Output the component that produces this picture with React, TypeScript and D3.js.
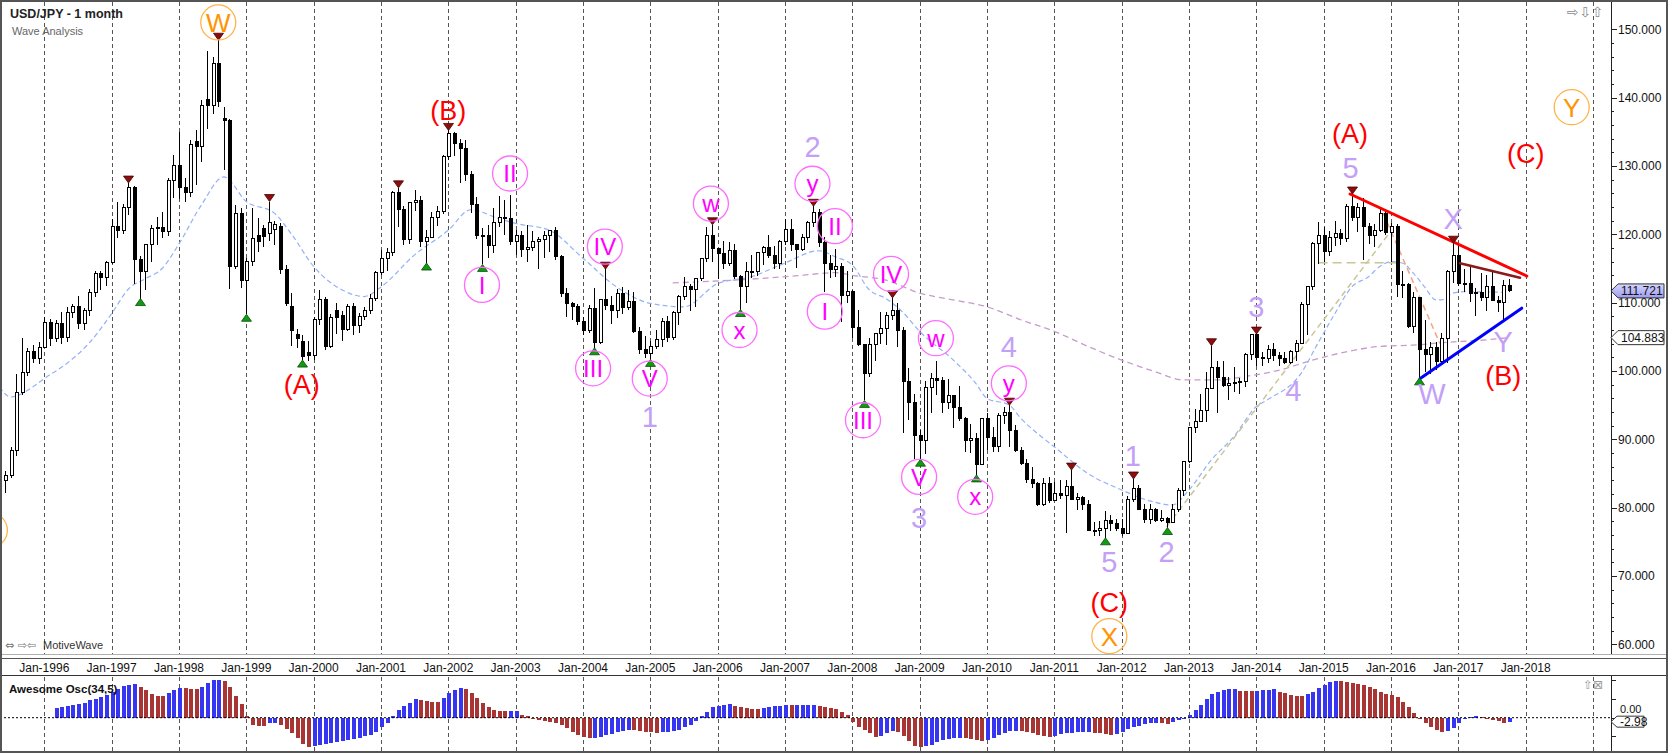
import React from "react";
import * as d3 from "d3";

type OHLC = [number, number, number, number];

// ---------- price data (monthly USD/JPY, O H L C) ----------
const candleStart = "1995-06";
const candles1995: OHLC[] = [
  [84.0, 85.3, 82.2, 84.7], [84.7, 88.9, 84.3, 88.4], [88.4, 99.5, 87.5, 96.8], [96.8, 104.9, 96.5, 99.8],
  [99.8, 103.4, 99.3, 102.9], [102.9, 103.8, 101.2, 101.8], [101.8, 104.2, 101.0, 103.5],
];
const candles1996: OHLC[] = [
  [103.5, 107.9, 103.3, 107.1], [107.1, 107.6, 103.7, 104.8], [104.8, 107.4, 104.2, 106.9], [106.9, 108.6, 104.0, 104.9],
  [104.9, 109.3, 104.3, 108.6], [108.6, 109.8, 107.8, 109.5], [109.5, 111.0, 106.2, 106.9], [106.9, 109.2, 106.0, 108.9],
  [108.9, 112.0, 108.0, 111.5], [111.5, 114.7, 110.9, 114.2], [114.2, 114.6, 111.9, 113.7], [113.7, 116.1, 112.5, 115.9],
];
const candles1997: OHLC[] = [
  [115.9, 122.3, 115.6, 121.2], [121.2, 124.7, 119.5, 120.5], [120.5, 124.4, 120.0, 123.9], [123.9, 127.5, 122.8, 126.8],
  [126.8, 127.0, 112.7, 116.3], [116.3, 116.8, 110.6, 114.6], [114.6, 118.6, 111.8, 118.5], [118.5, 121.3, 116.0, 120.8],
  [120.8, 122.6, 118.5, 121.0], [121.0, 123.3, 119.4, 120.4], [120.4, 128.3, 119.8, 127.9], [127.9, 131.6, 125.3, 130.1],
];
const candles1998: OHLC[] = [
  [130.1, 135.0, 125.1, 126.8], [126.8, 128.2, 124.7, 126.1], [126.1, 133.8, 125.5, 133.2], [133.6, 135.2, 127.2, 132.8],
  [132.8, 139.6, 130.6, 138.8], [139.8, 146.8, 135.4, 138.9], [138.9, 145.9, 137.6, 145.0], [145.0, 148.4, 138.7, 139.5],
  [137.0, 138.7, 129.4, 136.6], [136.6, 136.9, 112.0, 115.3], [115.3, 124.3, 115.0, 123.1], [123.1, 123.9, 112.1, 113.3],
];
const candles1999: OHLC[] = [
  [113.3, 116.6, 108.3, 116.0], [116.0, 123.9, 115.3, 119.4], [119.9, 122.4, 117.4, 118.9], [120.9, 121.4, 118.2, 119.7],
  [120.1, 124.8, 119.0, 121.8], [120.7, 122.0, 118.5, 121.4], [121.2, 121.6, 114.2, 114.9], [114.9, 115.5, 109.5, 109.9],
  [109.4, 111.4, 103.7, 106.0], [105.3, 106.2, 103.3, 104.8], [104.3, 105.3, 101.6, 102.1], [102.7, 104.4, 101.5, 102.2],
];
const candles2000: OHLC[] = [
  [102.2, 107.9, 101.6, 107.5], [107.5, 111.9, 106.7, 110.4], [110.4, 110.8, 103.1, 103.6], [103.6, 108.4, 103.3, 107.9],
  [108.9, 109.9, 105.4, 107.9], [108.1, 108.8, 104.4, 106.1], [106.1, 109.8, 105.9, 109.4], [109.4, 110.0, 105.3, 106.7],
  [106.7, 108.5, 105.6, 108.0], [108.0, 109.3, 107.4, 108.9], [108.9, 111.2, 108.3, 110.6], [110.6, 114.6, 110.3, 114.4],
];
const candles2001: OHLC[] = [
  [114.4, 117.7, 114.0, 116.4], [116.4, 118.0, 114.6, 117.4], [117.4, 126.3, 116.9, 126.1], [126.1, 126.8, 121.0, 123.6],
  [123.6, 124.2, 118.4, 119.2], [119.2, 124.8, 118.6, 124.6], [124.6, 126.5, 123.4, 124.9], [124.9, 125.6, 118.2, 119.0],
  [119.0, 120.6, 115.8, 119.5], [119.5, 123.2, 119.4, 122.4], [122.4, 124.2, 121.2, 123.4], [123.4, 131.6, 123.0, 131.4],
];
const candles2002: OHLC[] = [
  [131.4, 135.2, 130.9, 134.7], [134.7, 135.0, 131.5, 133.3], [133.3, 134.0, 127.5, 132.5], [132.5, 133.8, 127.8, 128.7],
  [128.7, 129.2, 123.1, 124.3], [124.3, 125.5, 119.3, 119.9], [119.9, 120.9, 115.6, 119.8], [119.8, 121.4, 116.6, 118.4],
  [118.4, 123.8, 117.2, 121.7], [121.7, 125.6, 121.1, 122.5], [122.5, 125.0, 119.9, 122.3], [122.3, 125.7, 118.4, 118.9],
];
const candles2003: OHLC[] = [
  [118.9, 120.7, 117.0, 119.9], [119.9, 120.5, 116.7, 117.8], [117.8, 121.4, 115.9, 118.1], [118.1, 120.5, 117.6, 119.0],
  [119.0, 119.6, 115.0, 119.3], [119.3, 120.5, 116.6, 119.8], [119.8, 120.5, 117.4, 120.5], [120.5, 121.0, 116.3, 116.8],
  [116.8, 117.0, 110.9, 111.4], [111.4, 112.1, 107.9, 109.9], [109.9, 110.1, 107.4, 109.5], [109.5, 109.8, 106.8, 107.2],
];
const candles2004: OHLC[] = [
  [107.2, 107.9, 105.2, 105.9], [105.9, 109.6, 105.5, 109.1], [109.1, 112.2, 103.4, 104.2], [104.2, 110.6, 103.9, 110.4],
  [110.4, 114.9, 109.0, 109.6], [109.6, 111.0, 106.9, 108.8], [108.8, 112.0, 107.8, 111.4], [111.4, 112.3, 108.3, 109.3],
  [109.3, 111.8, 108.9, 110.1], [110.1, 111.5, 105.6, 105.8], [105.8, 106.5, 102.5, 103.2], [103.2, 105.1, 101.9, 102.6],
];
const candles2005: OHLC[] = [
  [102.6, 104.4, 101.7, 103.6], [103.6, 106.0, 103.2, 104.6], [104.6, 107.8, 103.5, 107.2], [107.2, 108.0, 104.2, 104.9],
  [104.9, 108.8, 104.6, 108.5], [108.5, 111.1, 106.7, 110.9], [110.9, 113.7, 110.4, 112.4], [112.4, 112.7, 108.8, 111.9],
  [111.9, 113.6, 109.3, 113.5], [113.5, 116.4, 113.2, 116.4], [116.4, 121.0, 115.9, 119.8], [119.8, 121.4, 115.9, 117.9],
];
const candles2006: OHLC[] = [
  [117.9, 118.0, 113.4, 117.2], [117.2, 119.0, 115.0, 115.8], [115.8, 118.9, 115.4, 117.7], [117.7, 118.6, 113.4, 113.8],
  [113.8, 114.1, 109.0, 112.4], [112.4, 116.0, 110.0, 114.5], [114.5, 117.0, 113.6, 114.6], [114.6, 117.4, 113.9, 117.3],
  [117.3, 118.3, 115.5, 118.1], [118.1, 119.9, 116.6, 116.9], [116.9, 118.3, 114.9, 115.8], [115.8, 119.2, 115.0, 119.0],
];
const candles2007: OHLC[] = [
  [119.0, 122.2, 118.5, 120.7], [120.7, 122.2, 117.5, 118.5], [118.5, 118.6, 115.1, 117.8], [117.8, 120.0, 117.6, 119.5],
  [119.5, 122.0, 118.8, 121.7], [121.7, 124.1, 121.1, 123.2], [123.2, 123.7, 118.1, 118.8], [118.8, 119.6, 111.6, 115.8],
  [115.8, 117.0, 113.6, 114.8], [114.8, 117.9, 113.7, 115.3], [115.3, 115.8, 107.2, 111.1], [111.1, 114.7, 110.0, 111.7],
];
const candles2008: OHLC[] = [
  [111.7, 111.9, 104.9, 106.4], [106.4, 108.9, 103.7, 103.9], [103.9, 104.0, 95.7, 99.7], [99.7, 104.9, 99.1, 103.9],
  [103.9, 105.6, 101.5, 105.5], [105.5, 108.6, 103.9, 106.2], [106.2, 108.6, 103.8, 108.1], [108.1, 110.7, 107.5, 108.8],
  [108.8, 110.0, 103.5, 106.0], [106.0, 106.5, 90.9, 98.4], [98.4, 100.5, 92.9, 95.4], [95.4, 96.6, 87.1, 90.6],
];
const candles2009: OHLC[] = [
  [90.6, 91.3, 87.1, 89.9], [89.9, 98.6, 87.9, 97.6], [97.6, 99.7, 93.8, 98.9], [98.9, 101.4, 96.5, 98.6],
  [98.6, 99.1, 93.9, 95.4], [95.4, 98.9, 94.5, 96.4], [96.4, 96.5, 91.7, 94.7], [94.7, 97.8, 92.7, 93.1],
  [93.1, 93.3, 88.2, 89.8], [89.8, 92.3, 88.0, 90.1], [90.1, 91.0, 84.8, 86.3], [86.3, 93.1, 86.2, 93.0],
];
const candles2010: OHLC[] = [
  [93.0, 93.8, 88.5, 90.3], [90.3, 91.8, 88.1, 88.9], [88.9, 93.8, 88.1, 93.5], [93.5, 94.8, 92.3, 94.0],
  [94.0, 95.0, 88.9, 91.3], [91.3, 92.1, 88.2, 88.4], [88.4, 88.9, 86.3, 86.5], [86.5, 87.2, 83.6, 84.2],
  [84.2, 85.9, 82.9, 83.5], [83.5, 83.7, 80.2, 80.4], [80.4, 84.4, 80.3, 83.6], [83.6, 84.5, 80.7, 81.1],
];
const candles2011: OHLC[] = [
  [81.1, 83.7, 81.1, 82.1], [82.1, 84.0, 81.3, 81.8], [81.8, 84.0, 76.3, 83.1], [83.1, 85.5, 81.2, 81.2],
  [81.2, 82.2, 79.6, 81.5], [81.5, 81.7, 79.7, 80.5], [80.5, 81.1, 76.6, 76.7], [76.7, 77.9, 75.9, 76.6],
  [76.6, 78.0, 75.9, 77.0], [77.0, 79.5, 75.6, 78.2], [78.2, 79.0, 76.6, 77.7], [77.7, 78.3, 76.6, 76.9],
];
const candles2012: OHLC[] = [
  [76.9, 78.3, 75.9, 76.2], [76.2, 81.7, 76.1, 81.2], [81.2, 84.2, 80.9, 82.8], [82.8, 83.3, 79.7, 79.8],
  [79.8, 80.6, 77.7, 78.3], [78.3, 80.6, 77.6, 79.8], [79.8, 80.0, 77.9, 78.1], [78.1, 79.7, 77.9, 78.4],
  [78.4, 78.6, 77.1, 77.9], [77.9, 80.5, 77.9, 79.8], [79.8, 82.9, 79.4, 82.5], [82.5, 86.8, 81.7, 86.7],
];
const candles2013: OHLC[] = [
  [86.7, 91.8, 86.5, 91.7], [91.7, 94.5, 90.9, 92.6], [92.6, 96.7, 92.5, 94.2], [94.2, 99.9, 92.6, 97.4],
  [97.4, 103.7, 97.3, 100.5], [100.5, 101.5, 93.8, 99.1], [99.1, 101.5, 97.6, 97.9], [97.9, 99.1, 95.8, 98.2],
  [98.2, 100.6, 96.9, 98.3], [98.3, 99.0, 96.6, 98.4], [98.4, 102.6, 97.6, 102.4], [102.4, 105.4, 101.6, 105.3],
];
const candles2014: OHLC[] = [
  [105.3, 105.4, 100.8, 102.0], [102.0, 102.8, 100.8, 101.8], [101.8, 103.8, 101.2, 103.2], [103.2, 104.1, 101.4, 102.2],
  [102.2, 102.8, 100.8, 101.8], [101.8, 102.8, 101.1, 101.3], [101.3, 103.1, 101.1, 102.8], [102.8, 104.5, 101.5, 104.1],
  [104.1, 110.1, 104.0, 109.7], [109.7, 112.5, 105.2, 112.3], [112.3, 118.9, 111.8, 118.6], [118.6, 121.8, 115.6, 119.8],
];
const candles2015: OHLC[] = [
  [119.8, 121.0, 115.9, 117.5], [117.5, 120.5, 116.9, 119.6], [119.6, 122.0, 118.3, 120.1], [120.1, 120.8, 118.5, 119.4],
  [119.4, 124.5, 118.9, 124.1], [124.1, 125.9, 122.0, 122.5], [122.5, 124.6, 120.4, 123.9], [123.9, 125.3, 116.2, 121.2],
  [121.2, 121.7, 118.6, 119.9], [119.9, 121.5, 118.1, 120.6], [120.6, 123.8, 120.3, 123.1], [123.1, 123.6, 119.9, 120.2],
];
const candles2016: OHLC[] = [
  [120.2, 121.7, 115.9, 121.1], [121.1, 121.5, 110.9, 112.6], [112.6, 114.6, 110.7, 112.6], [112.6, 112.9, 106.3, 106.5],
  [106.5, 111.5, 105.5, 110.7], [110.7, 110.9, 99.0, 103.2], [103.2, 107.5, 99.9, 102.4], [102.4, 104.3, 99.6, 103.4],
  [103.4, 104.3, 100.1, 101.4], [101.4, 105.5, 101.2, 104.8], [104.8, 114.8, 101.2, 114.5], [114.5, 118.7, 112.9, 116.9],
];
const candles2017: OHLC[] = [
  [116.9, 118.6, 112.5, 112.8], [112.8, 115.0, 111.6, 112.8], [112.8, 115.5, 110.1, 111.4], [111.4, 112.2, 108.1, 111.5],
  [111.5, 114.4, 110.2, 110.8], [110.8, 114.0, 108.8, 112.4], [112.4, 114.5, 110.2, 110.3], [110.3, 111.0, 108.6, 110.0],
  [110.0, 113.3, 107.3, 112.5], [112.5, 113.4, 111.6, 111.721],
];

// ---------- Awesome Oscillator (34,5) values ----------
const aoStart = "1996-03";
const ao1996 = [6.2, 7.3, 8.0, 8.4, 8.9, 9.6, 11.8, 12.7, 13.8, 15.1];
const ao1997 = [17.3, 19.1, 20.9, 22.0, 22.4, 20.7, 18.4, 15.8, 14.4, 14.2, 16.2, 18.4];
const ao1998 = [19.6, 19.5, 19.4, 19.3, 20.6, 23.0, 24.9, 25.1, 24.2, 20.4, 14.4, 8.9];
const ao1999 = [1.1, -4.9, -5.3, -5.4, -3.8, -3.3, -5.0, -7.3, -10.4, -13.8, -17.6, -19.3];
const ao2000 = [-18.7, -18.0, -17.3, -16.7, -16.0, -15.3, -14.7, -14.2, -13.6, -12.4, -11.3, -9.3];
const ao2001 = [-6.4, -3.3, 1.1, 5.1, 7.8, 9.6, 12.2, 11.6, 10.9, 10.7, 10.6, 12.9];
const ao2002 = [16.2, 18.4, 20.0, 19.0, 16.4, 12.9, 9.8, 7.1, 5.3, 4.4, 4.2, 4.6];
const ao2003 = [4.7, 2.0, 0.9, -1.1, -1.6, -2.0, -2.7, -3.3, -4.9, -7.1, -9.3, -11.6];
const ao2004 = [-13.1, -13.8, -13.6, -12.9, -11.8, -10.9, -9.6, -8.7, -8.2, -8.4, -8.9, -9.3];
const ao2005 = [-9.8, -10.0, -9.6, -9.3, -8.7, -8.0, -6.4, -4.7, -2.2, 1.1, 4.0, 6.9];
const ao2006 = [7.8, 8.4, 8.9, 7.6, 6.9, 6.4, 6.0, 5.8, 6.7, 7.3, 7.8, 8.0];
const ao2007 = [8.4, 8.2, 8.4, 8.5, 8.6, 8.7, 8.0, 7.1, 6.4, 5.6, 4.0, 1.8];
const ao2008 = [-2.7, -6.0, -8.2, -10.0, -12.7, -12.2, -10.4, -8.9, -9.6, -12.0, -15.6, -19.1];
const ao2009 = [-19.8, -19.1, -18.0, -16.2, -14.7, -14.0, -13.6, -13.3, -13.8, -14.4, -14.9, -15.3];
const ao2010 = [-14.9, -13.8, -11.6, -10.2, -8.9, -8.7, -8.9, -9.3, -10.2, -11.6, -12.2, -12.7];
const ao2011 = [-12.2, -10.9, -10.4, -10.0, -9.8, -9.7, -9.6, -10.0, -10.4, -10.9, -11.6, -10.7];
const ao2012 = [-9.6, -7.8, -6.4, -5.6, -4.4, -3.6, -3.3, -3.6, -4.0, -2.7, -1.6, -0.4];
const ao2013 = [1.8, 5.1, 8.4, 12.2, 15.6, 17.3, 18.4, 18.9, 19.1, 18.0, 17.8, 17.6];
const ao2014 = [18.0, 18.2, 18.7, 18.9, 17.3, 16.2, 15.1, 14.4, 14.3, 15.6, 17.3, 19.6];
const ao2015 = [22.0, 23.8, 24.7, 24.2, 23.8, 23.3, 22.7, 21.8, 20.7, 19.3, 17.3, 15.8];
const ao2016 = [15.1, 14.0, 10.7, 7.3, 2.9, -1.1, -3.8, -6.4, -8.2, -9.3, -8.9, -7.1];
const ao2017 = [-3.8, -0.4, 0.7, 0.9, 0.2, -0.9, -1.6, -2.4, -3.3, -2.98];

// ---------- moving averages (read points) ----------
const blueMa: [string, number][] = [
  ["1995-05", 97.7], ["1995-07", 96.2], ["1995-11", 97.7], ["1996-01", 98.9], ["1996-05", 101.1], ["1996-09", 104.1],
  ["1997-01", 108.4], ["1997-04", 112.0], ["1997-07", 113.5], ["1997-10", 115.0], ["1998-01", 118.6], ["1998-05", 124.3],
  ["1998-09", 128.4], ["1999-01", 124.8], ["1999-06", 123.1], ["1999-09", 120.1], ["2000-01", 115.3], ["2000-06", 111.9],
  ["2000-10", 110.9], ["2001-01", 112.3], ["2001-07", 117.0], ["2002-01", 120.6], ["2002-05", 123.6], ["2002-10", 122.3],
  ["2003-01", 121.6], ["2003-07", 120.6], ["2004-01", 116.5], ["2004-07", 112.3], ["2005-01", 109.9], ["2005-07", 109.4],
  ["2006-01", 112.8], ["2006-07", 113.8], ["2007-01", 115.8], ["2007-07", 117.6], ["2007-10", 116.7], ["2008-01", 115.5],
  ["2008-04", 111.9], ["2008-07", 110.6], ["2008-10", 108.6], ["2009-01", 105.8], ["2009-07", 101.6], ["2009-11", 98.2],
  ["2010-01", 96.0], ["2010-05", 95.0], ["2010-07", 93.1], ["2010-11", 90.2], ["2011-01", 88.9], ["2011-07", 85.0],
  ["2012-01", 82.6], ["2012-06", 81.0], ["2012-10", 80.4], ["2013-01", 82.6], ["2013-05", 87.0], ["2013-09", 90.4],
  ["2014-01", 94.8], ["2014-03", 95.8], ["2014-09", 99.7], ["2014-12", 104.1], ["2015-03", 108.4], ["2015-06", 112.3],
  ["2015-09", 113.8], ["2015-11", 115.3], ["2016-01", 116.0], ["2016-03", 115.8], ["2016-05", 114.3], ["2016-07", 112.3],
  ["2016-09", 110.4], ["2016-10", 110.4], ["2016-12", 111.4], ["2017-02", 111.6], ["2017-10", 111.5],
];
const purpleMa: [string, number][] = [
  ["2005-05", 112.9], ["2006-04", 113.3], ["2007-04", 114.0], ["2007-10", 114.4], ["2008-01", 114.0], ["2008-07", 113.3],
  ["2009-01", 111.4], ["2009-07", 110.4], ["2010-01", 109.4], ["2010-07", 107.5], ["2011-01", 105.8], ["2011-07", 103.6],
  ["2012-01", 101.6], ["2012-07", 99.9], ["2012-12", 98.7], ["2013-06", 98.7], ["2013-11", 99.2], ["2014-05", 100.1],
  ["2014-11", 101.6], ["2015-05", 102.8], ["2015-11", 103.6], ["2016-05", 103.8], ["2016-11", 104.2], ["2017-05", 104.5],
  ["2017-10", 104.883],
];

// ---------- pivots, wave labels, drawn lines ----------
const pivotHighs = ["1997-04", "1998-08", "1999-05", "2001-04", "2002-01", "2004-05", "2005-12", "2007-06", "2008-08",
  "2010-05", "2011-04", "2012-03", "2013-05", "2014-01", "2015-06", "2016-12"];
const pivotLows = ["1997-06", "1999-01", "1999-11", "2001-09", "2002-07", "2004-03", "2005-01", "2006-05", "2008-03",
  "2009-01", "2009-11", "2011-10", "2012-09", "2016-06"];

const orangeLabels: [string, string, number][] = [
  ["W", "1998-08-01", 151.0], ["X", "2011-10-25", 61.2], ["Y", "2018-09-07", 138.6], ["", "1995-03-10", 76.7],
];
const redLabels: [string, string, number][] = [
  ["(A)", "1999-10-28", 98.0], ["(B)", "2002-01-01", 138.2], ["(C)", "2011-10-25", 66.2],
  ["(A)", "2015-05-22", 134.8], ["(C)", "2018-01-01", 131.9], ["(B)", "2017-09-01", 99.4],
];
const magentaLabels: [string, string, number][] = [
  ["I", "2002-07-01", 112.6], ["II", "2002-12-01", 128.9], ["III", "2004-02-25", 100.4], ["IV", "2004-04-28", 118.2],
  ["V", "2004-12-28", 98.9], ["w", "2005-11-25", 124.5], ["x", "2006-04-28", 106.0], ["y", "2007-05-28", 127.4],
  ["II", "2007-09-28", 121.2], ["I", "2007-08-04", 108.7], ["III", "2008-02-28", 92.8], ["IV", "2008-07-28", 114.2],
  ["V", "2008-12-28", 84.5], ["w", "2009-03-28", 104.8], ["y", "2010-04-28", 98.2], ["x", "2009-10-28", 81.6],
];
const lavenderLabels: [string, string, number][] = [
  ["1", "2004-12-28", 93.3], ["2", "2007-05-28", 132.8], ["3", "2008-12-28", 78.5], ["4", "2010-04-28", 103.6],
  ["5", "2011-10-25", 72.1], ["1", "2012-03-01", 87.6], ["2", "2012-09-01", 73.6], ["3", "2014-01-01", 109.4],
  ["4", "2014-07-19", 97.2], ["5", "2015-05-25", 129.7], ["X", "2016-12-04", 122.3], ["W", "2016-08-10", 96.7],
  ["Y", "2017-09-01", 104.3],
];
const solidLines: { a: [string, number]; b: [string, number]; color: string; w: number }[] = [
  { a: ["2015-05-22", 125.9], b: ["2018-01-07", 113.9], color: "#ff0000", w: 3 },
  { a: ["2017-01-10", 115.76], b: ["2017-12-01", 113.65], color: "#8b1a1a", w: 2.5 },
  { a: ["2016-06-07", 98.9], b: ["2017-12-10", 109.2], color: "#0000ff", w: 3 },
];
const dashedLines: { a: [string, number]; b: [string, number]; color: string; dash: string }[] = [
  { a: ["2012-09-01", 77.2], b: ["2015-12-28", 120.4], color: "#c9c596", dash: "6,4" },
  { a: ["2014-12-04", 115.85], b: ["2016-02-10", 115.85], color: "#c9c596", dash: "9,5" },
  { a: ["2015-11-19", 123.1], b: ["2016-09-22", 104.05], color: "#f5a580", dash: "6,4" },
];

const priceTicks = [60, 70, 80, 90, 100, 110, 120, 130, 140, 150];
const firstLabelYear = 1996;
const lastLabelYear = 2018;
const lastGridYear = 2019;
const lastPrice = 111.721;
const maLast = 104.883;
const aoLast = -2.98;

// ---------- helpers ----------
const mIdx = (s: string) => {
  const p = s.split("-").map(Number);
  return (p[0] - 1996) * 12 + (p[1] - 1) + (p[2] ? (p[2] - 1) / 30 : 0);
};
const FONT = "'Liberation Sans', Arial, Helvetica, sans-serif";

export default function App() {
  const W = 1668, H = 753;
  const plotRight = 1611;
  const plotBottom = 654;
  const x = d3.scaleLinear().domain([0, 276]).range([44.3, 1593.0]);
  const y = d3.scaleLinear().domain([60, 150]).range([644.4, 29.3]);
  const yAo = d3.scaleLinear().domain([-20, 25]).range([747.7, 680.2]);

  const candles = [candles1995, candles1996, candles1997, candles1998, candles1999, candles2000, candles2001, candles2002,
    candles2003, candles2004, candles2005, candles2006, candles2007, candles2008, candles2009, candles2010, candles2011,
    candles2012, candles2013, candles2014, candles2015, candles2016, candles2017].flat();
  const c0 = mIdx(candleStart);
  const cByMonth = new Map<number, OHLC>();
  candles.forEach((c, i) => cByMonth.set(c0 + i, c));

  const ao = [ao1996, ao1997, ao1998, ao1999, ao2000, ao2001, ao2002, ao2003, ao2004, ao2005, ao2006, ao2007, ao2008,
    ao2009, ao2010, ao2011, ao2012, ao2013, ao2014, ao2015, ao2016, ao2017].flat();
  const a0 = mIdx(aoStart);

  const px = (m: number) => Math.round(x(m)) + 0.5;

  const gridYears = d3.range(firstLabelYear, lastGridYear + 1);
  const maLine = d3.line<[string, number]>().x(d => x(mIdx(d[0]))).y(d => y(d[1])).curve(d3.curveMonotoneX);

  const zeroY = yAo(0);
  const tickMinor = d3.range(60, 152, 2);

  const priceBox = (v: number, fill: string, yy: number) => {
    const h = 7;
    const pts = `${plotRight},${yy} ${plotRight + 7},${yy - h} ${1664},${yy - h} ${1664},${yy + h} ${plotRight + 7},${yy + h}`;
    return (
      <g>
        <polygon points={pts} fill={fill} stroke="#333" strokeWidth={1} />
        <text x={plotRight + 10} y={yy + 4.3} fontSize={12} fontFamily={FONT} fill="#111">{v.toFixed(3)}</text>
      </g>
    );
  };

  return (
    <svg width={W} height={H} viewBox={`0 0 ${W} ${H}`}
      style={{ position: "absolute", left: 0, top: 0, display: "block", background: "#fff" }}>
      <defs>
        <clipPath id="mainClip"><rect x={2} y={2} width={plotRight - 2} height={plotBottom - 2} /></clipPath>
        <linearGradient id="lastGrad" x1="0" y1="0" x2="0" y2="1">
          <stop offset="0" stopColor="#d6d6ff" />
          <stop offset="1" stopColor="#9c9cf0" />
        </linearGradient>
      </defs>
      <rect x={0} y={0} width={W} height={H} fill="#fff" />

      {/* vertical dashed grid */}
      <g stroke="#555" strokeWidth={1} strokeDasharray="4,3">
        {gridYears.map(yr => {
          const gx = px((yr - 1996) * 12);
          return (
            <g key={yr}>
              <line x1={gx} x2={gx} y1={2} y2={plotBottom} />
              <line x1={gx} x2={gx} y1={677} y2={751} />
            </g>
          );
        })}
      </g>

      <g clipPath="url(#mainClip)">
        {/* moving averages */}
        <path d={maLine(purpleMa) || ""} fill="none" stroke="#c79ccc" strokeWidth={1.3} strokeDasharray="6,4" />
        <path d={maLine(blueMa) || ""} fill="none" stroke="#93b2f6" strokeWidth={1.2} strokeDasharray="5,3" />
        {/* dashed analysis lines */}
        {dashedLines.map((l, i) => (
          <line key={i} x1={x(mIdx(l.a[0]))} y1={y(l.a[1])} x2={x(mIdx(l.b[0]))} y2={y(l.b[1])}
            stroke={l.color} strokeWidth={1.5} strokeDasharray={l.dash} />
        ))}

        {/* candles */}
        <g shapeRendering="crispEdges">
          {candles.map((c, i) => {
            const m = c0 + i;
            const cx = px(m);
            const [o, h, l, cl] = c;
            const up = cl >= o;
            const top = y(Math.max(o, cl));
            const bot = y(Math.min(o, cl));
            return (
              <g key={i}>
                <line x1={cx} x2={cx} y1={y(h)} y2={y(l)} stroke="#000" strokeWidth={1} />
                <rect x={cx - 1} y={top} width={3} height={Math.max(1, bot - top)}
                  fill={up ? "#fff" : "#000"} stroke="#000" strokeWidth={1} />
              </g>
            );
          })}
        </g>

        {/* solid trend lines */}
        {solidLines.map((l, i) => (
          <line key={i} x1={x(mIdx(l.a[0]))} y1={y(l.a[1])} x2={x(mIdx(l.b[0]))} y2={y(l.b[1])}
            stroke={l.color} strokeWidth={l.w} strokeLinecap="round" />
        ))}

        {/* pivots */}
        {pivotHighs.map(s => {
          const m = mIdx(s);
          const c = cByMonth.get(m);
          if (!c) return null;
          const cx = px(m), yy = y(c[1]);
          return <polygon key={"h" + s} points={`${cx - 5},${yy - 7} ${cx + 5},${yy - 7} ${cx},${yy}`}
            fill="#8b0d0d" stroke="#4a0000" strokeWidth={0.8} />;
        })}
        {pivotLows.map(s => {
          const m = mIdx(s);
          const c = cByMonth.get(m);
          if (!c) return null;
          const cx = px(m), yy = y(c[2]);
          return <polygon key={"l" + s} points={`${cx - 5},${yy + 7} ${cx + 5},${yy + 7} ${cx},${yy}`}
            fill="#139a13" stroke="#064d06" strokeWidth={0.8} />;
        })}

        {/* wave labels */}
        {magentaLabels.map((d, i) => (
          <g key={"m" + i}>
            <circle cx={x(mIdx(d[1]))} cy={y(d[2])} r={17.5} fill="none" stroke="#ff6cff" strokeWidth={1.3} />
            <text x={x(mIdx(d[1]))} y={y(d[2])} dy="0.36em" textAnchor="middle" fontSize={24}
              fontFamily={FONT} fill="#ff00ff">{d[0]}</text>
          </g>
        ))}
        {orangeLabels.map((d, i) => (
          <g key={"o" + i}>
            <circle cx={x(mIdx(d[1]))} cy={y(d[2])} r={17.5} fill="none" stroke="#ffb347" strokeWidth={1.3} />
            <text x={x(mIdx(d[1]))} y={y(d[2])} dy="0.36em" textAnchor="middle" fontSize={26}
              fontFamily={FONT} fill="#ff9400">{d[0]}</text>
          </g>
        ))}
        {redLabels.map((d, i) => (
          <text key={"r" + i} x={x(mIdx(d[1]))} y={y(d[2])} dy="0.36em" textAnchor="middle" fontSize={27}
            fontFamily={FONT} fill="#ff0000">{d[0]}</text>
        ))}
        {lavenderLabels.map((d, i) => (
          <text key={"v" + i} x={x(mIdx(d[1]))} y={y(d[2])} dy="0.36em" textAnchor="middle" fontSize={29}
            fontFamily={FONT} fill="#c3a0f8">{d[0]}</text>
        ))}
      </g>

      {/* title and chrome */}
      <text x={10} y={18} fontSize={12.5} fontWeight="bold" fontFamily={FONT} fill="#222">USD/JPY - 1 month</text>
      <text x={12} y={35} fontSize={11} fontFamily={FONT} fill="#666">Wave Analysis</text>
      <text x={1567} y={17} fontSize={14} fontFamily="'DejaVu Sans', sans-serif" fill="#8a8a8a" letterSpacing={0.5}>⇨⇩⇧</text>
      <text x={5} y={649} fontSize={11} fontFamily="'DejaVu Sans', sans-serif" fill="#777">⇔ ⇨⇦</text>
      <text x={43} y={649} fontSize={11} fontFamily={FONT} fill="#333">MotiveWave</text>

      {/* price axis */}
      <line x1={plotRight + 0.5} x2={plotRight + 0.5} y1={0} y2={plotBottom} stroke="#222" />
      {tickMinor.map(v => (
        <line key={v} x1={plotRight} x2={plotRight + (v % 10 === 0 ? 6 : 3)} y1={Math.round(y(v)) + 0.5}
          y2={Math.round(y(v)) + 0.5} stroke="#222" />
      ))}
      {priceTicks.map(v => (
        <text key={v} x={plotRight + 7} y={y(v) + 4.3} fontSize={12} fontFamily={FONT} fill="#111">{v.toFixed(3)}</text>
      ))}
      {priceBox(maLast, "#ffffff", y(maLast))}
      {priceBox(lastPrice, "url(#lastGrad)", y(lastPrice))}

      {/* separators and x axis band */}
      <line x1={0} x2={W} y1={654.5} y2={654.5} stroke="#b0b0b0" />
      <line x1={0} x2={W} y1={658.5} y2={658.5} stroke="#555" />
      <line x1={0} x2={W} y1={675.5} y2={675.5} stroke="#333" strokeWidth={1.2} />
      {d3.range(firstLabelYear, lastLabelYear + 1).map(yr => (
        <text key={yr} x={x((yr - 1996) * 12)} y={671.5} textAnchor="middle" fontSize={12} fontFamily={FONT}
          fill="#111">{`Jan-${yr}`}</text>
      ))}

      {/* Awesome oscillator */}
      <g shapeRendering="crispEdges">
        {ao.map((v, i) => {
          const m = a0 + i;
          const cx = px(m);
          const prev = i > 0 ? ao[i - 1] : -Infinity;
          const col = v >= prev ? "#3636f2" : "#a83434";
          const y1 = Math.min(yAo(v), zeroY);
          const y2 = Math.max(yAo(v), zeroY);
          return <rect key={i} x={cx - 2} y={y1} width={4} height={Math.max(1, y2 - y1)} fill={col} />;
        })}
      </g>
      <line x1={0} x2={plotRight} y1={zeroY} y2={zeroY} stroke="#000" strokeDasharray="2,2" />
      <text x={9} y={693} fontSize={11.5} fontWeight="bold" fontFamily={FONT} fill="#111">Awesome Osc(34,5)</text>
      <text x={1583} y={689} fontSize={12} fontFamily="'DejaVu Sans', sans-serif" fill="#9a9a9a">⇧⊠</text>
      <line x1={plotRight + 0.5} x2={plotRight + 0.5} y1={676} y2={751} stroke="#222" />
      {[-12.5, 0, 12.5, 25].map(v => (
        <line key={v} x1={plotRight} x2={plotRight + 5} y1={Math.round(yAo(v)) + 0.5} y2={Math.round(yAo(v)) + 0.5}
          stroke="#222" />
      ))}
      <text x={plotRight + 9} y={zeroY - 4.5} fontSize={11} fontFamily={FONT} fill="#111">0.00</text>
      {(() => {
        const yy = yAo(aoLast) - 0.5;
        const h = 5.5;
        const pts = `${plotRight},${yy} ${plotRight + 6},${yy - h} ${1644},${yy - h} ${1644},${yy + h} ${plotRight + 6},${yy + h}`;
        return (
          <g>
            <polygon points={pts} fill="#fff" stroke="#333" />
            <text x={plotRight + 9} y={yy + 4.2} fontSize={12} fontFamily={FONT} fill="#111">{aoLast.toFixed(2)}</text>
          </g>
        );
      })()}

      {/* outer frame */}
      <rect x={1} y={1} width={W - 2} height={H - 2} fill="none" stroke="#555" strokeWidth={2} />
    </svg>
  );
}
